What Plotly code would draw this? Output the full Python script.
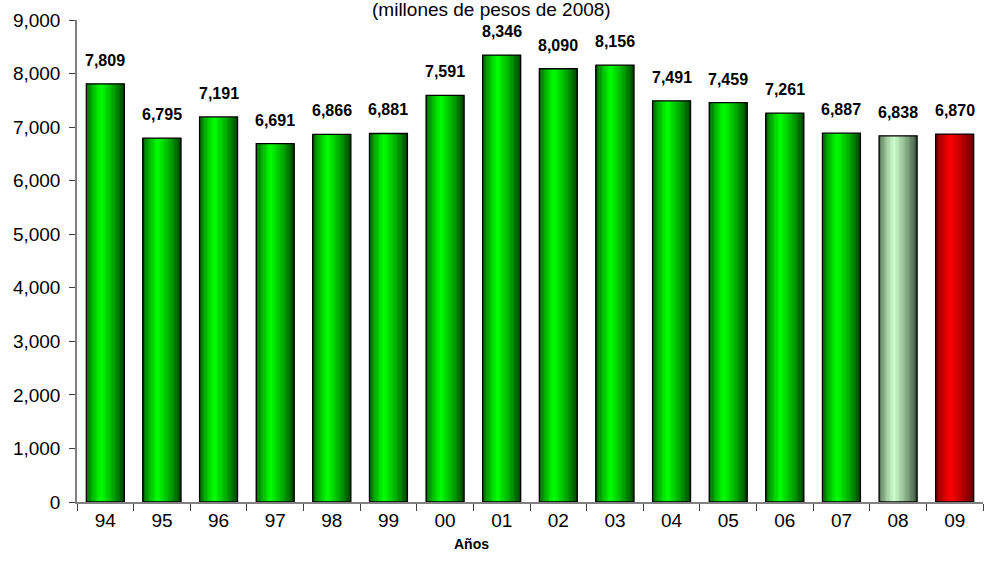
import plotly.graph_objects as go

years = ["94", "95", "96", "97", "98", "99", "00", "01", "02", "03", "04", "05", "06", "07", "08", "09"]
values = [7809, 6795, 7191, 6691, 6866, 6881, 7591, 8346, 8090, 8156, 7491, 7459, 7261, 6887, 6838, 6870]
bar_styles = ["green"] * 14 + ["light", "red"]

palettes = {
    "green": ((0, 35, 0), (0, 255, 0)),
    "light": ((35, 55, 35), (205, 255, 205)),
    "red": ((65, 0, 0), (255, 0, 0)),
}

def shade(style, t):
    dark, bright = palettes[style]
    peak = 0.4
    if t <= peak:
        f = (t / peak) ** 0.6
    else:
        f = ((1 - t) / (1 - peak)) ** 0.8
    f = 0.12 + 0.88 * f
    c = [round(d + (b - d) * f) for d, b in zip(dark, bright)]
    return f"rgb({c[0]},{c[1]},{c[2]})"

fig = go.Figure()
W = 0.67
N = 30
sw = W / N
for i in range(N):
    t = (i + 0.5) / N
    fig.add_trace(go.Bar(
        x=years, y=values,
        width=sw * 1.3, offset=-W / 2 + i * sw,
        marker=dict(color=[shade(s, t) for s in bar_styles], line=dict(width=0)),
        hoverinfo="skip", showlegend=False,
    ))

fig.add_trace(go.Bar(
    x=years, y=values, width=W, offset=-W / 2,
    marker=dict(color="rgba(0,0,0,0)", line=dict(color="black", width=1.3)),
    cliponaxis=False, showlegend=False, hoverinfo="skip",
))

# category axis: annotations address categories by index
annotations = [
    dict(x=i, y=v, xref="x", yref="y", text=f"<b>{v:,}</b>", showarrow=False,
         yanchor="bottom", yshift=13, font=dict(size=16, color="black"))
    for i, v in enumerate(values)
]
annotations.append(dict(text="(millones de pesos de 2008)", xref="paper", yref="paper",
                        x=0.457, y=1.0, yshift=11, showarrow=False,
                        font=dict(size=19, color="black"), yanchor="middle"))
annotations.append(dict(text="<b>Años</b>", xref="paper", yref="paper",
                        x=(471 - 77) / 906, y=0, yshift=-42, showarrow=False,
                        font=dict(size=14, color="black"), yanchor="middle"))

fig.update_layout(
    barmode="overlay",
    width=985, height=562,
    margin=dict(l=77, r=2, t=20, b=60, autoexpand=False),
    plot_bgcolor="white", paper_bgcolor="white",
    font=dict(family="Liberation Sans, Arial", size=19, color="black"),
    annotations=annotations,
)
fig.update_xaxes(
    type="category", categoryorder="array", categoryarray=years,
    range=[-0.5, len(years) - 0.5],
    showline=True, linecolor="#808080", linewidth=1.5,
    ticks="outside", tickson="boundaries", ticklen=7, tickcolor="#404040",
    tickfont=dict(size=19), tickangle=0, automargin=False,
)
fig.update_yaxes(
    range=[0, 9000], dtick=1000, tickformat=",d",
    showline=True, linecolor="#808080", linewidth=1.5,
    ticks="outside", ticklen=6, tickcolor="#404040", ticklabelstandoff=5,
    showgrid=False, zeroline=False, tickfont=dict(size=19), automargin=False,
)

fig.write_html("out.html", config={"displayModeBar": False},
               post_script="document.body.style.margin='0';document.body.style.overflow='hidden';")
